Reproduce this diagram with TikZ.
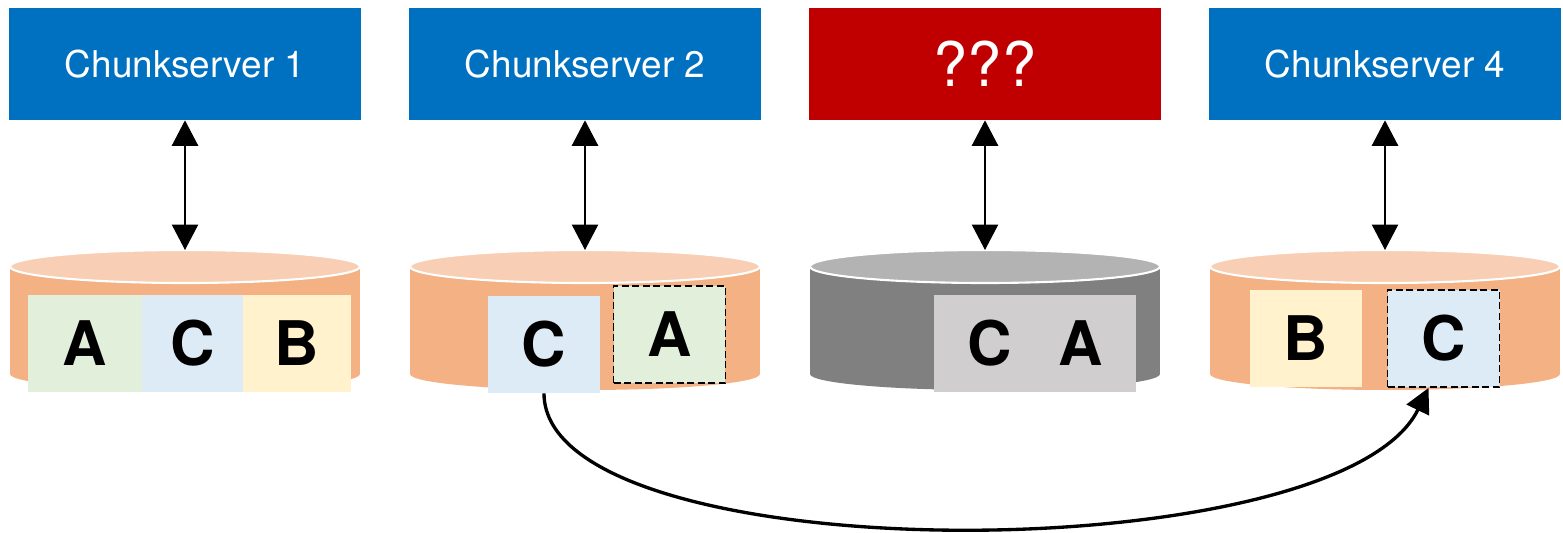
\documentclass[tikz,border=0pt]{standalone}
\usepackage{fontspec}
\setmainfont{TeX Gyre Heros}
\usepackage{xcolor}
\usetikzlibrary{arrows.meta}

\definecolor{serverblue}{HTML}{0070C0}
\definecolor{serverred}{HTML}{C00000}
\definecolor{diskbody}{HTML}{F4B183}
\definecolor{disktop}{HTML}{F8CFB4}
\definecolor{deadbody}{HTML}{808080}
\definecolor{deadtop}{HTML}{B3B3B3}
\definecolor{chunkA}{HTML}{E2EFDA}
\definecolor{chunkB}{HTML}{FFF2CC}
\definecolor{chunkC}{HTML}{DDEBF7}
\definecolor{chunkdead}{HTML}{D0CECE}

\begin{document}
\begin{tikzpicture}[x=0.02cm, y=-0.02cm,
  server/.style = {fill=serverblue, text=white, minimum width=7.04cm, minimum height=2.24cm,
                   inner sep=0pt, font=\fontsize{21}{25}\selectfont},
  chunk/.style  = {minimum width=2.24cm, minimum height=1.94cm, inner sep=0pt,
                   font=\bfseries\fontsize{35}{40}\selectfont},
  copied/.style = {draw=black, line width=1.1pt, dash pattern=on 4pt off 2pt},
  link/.style   = {line width=0.7pt, {Triangle[length=14.5pt,width=15pt]}-{Triangle[length=14.5pt,width=15pt]}}]
  \useasboundingbox (0, 0) rectangle (1563, 533);

  % servers
  \node[server] (cs1) at (185, 64) {Chunkserver 1};
  \node[server] (cs2) at (585, 64) {Chunkserver 2};
  \node[server, fill=serverred, font=\fontsize{35}{40}\selectfont] (cs3) at (985, 64) {???};
  \node[server] (cs4) at (1385, 64) {Chunkserver 4};

  % disks
  \foreach \cx/\body/\top in {185/diskbody/disktop, 585/diskbody/disktop, 985/deadbody/deadtop, 1385/diskbody/disktop} {
    \fill [\body] (\cx-175, 266) rectangle (\cx+175, 374);
    \fill [\body] (\cx, 374) ellipse [x radius=175, y radius=16];
    \filldraw [fill=\top, draw=white, line width=1.2pt] (\cx, 266.5) ellipse [x radius=175, y radius=16.5];
  }
  \coordinate (disk1) at (185, 250);
  \coordinate (disk2) at (585, 250);
  \coordinate (disk3) at (985, 250);
  \coordinate (disk4) at (1385, 250);

  % chunks
  \node[chunk, fill=chunkA, minimum width=2.28cm] (a1) at (85, 343.5) {A};
  \node[chunk, fill=chunkC, minimum width=2.02cm] (c1) at (192.5, 343.5) {C};
  \node[chunk, fill=chunkB, minimum width=2.16cm] (b1) at (297, 343.5) {B};

  \node[chunk, fill=chunkC] (c2) at (544, 344.5) {C};
  \node[chunk, fill=chunkA, copied] (a2) at (669.5, 334.5) {A};

  \node[chunk, fill=chunkdead, minimum width=4.04cm] (ca3) at (1035, 343.5) {C\hskip0.75em A};

  \node[chunk, fill=chunkB] (b4) at (1306, 338.5) {B};
  \node[chunk, fill=chunkC, copied] (c4) at (1443.5, 338.5) {C};

  % links
  \draw [link] (cs1.south) -- (disk1);
  \draw [link] (cs2.south) -- (disk2);
  \draw [link] (cs3.south) -- (disk3);
  \draw [link] (cs4.south) -- (disk4);

  % re-replication of C
  \draw [line width=1.9pt, -{Triangle[length=14pt,width=14pt]}] (c2.south) .. controls +(0, 180) and +(-90, 185) .. ([xshift=-0.3cm]c4.south);
\end{tikzpicture}
\end{document}
